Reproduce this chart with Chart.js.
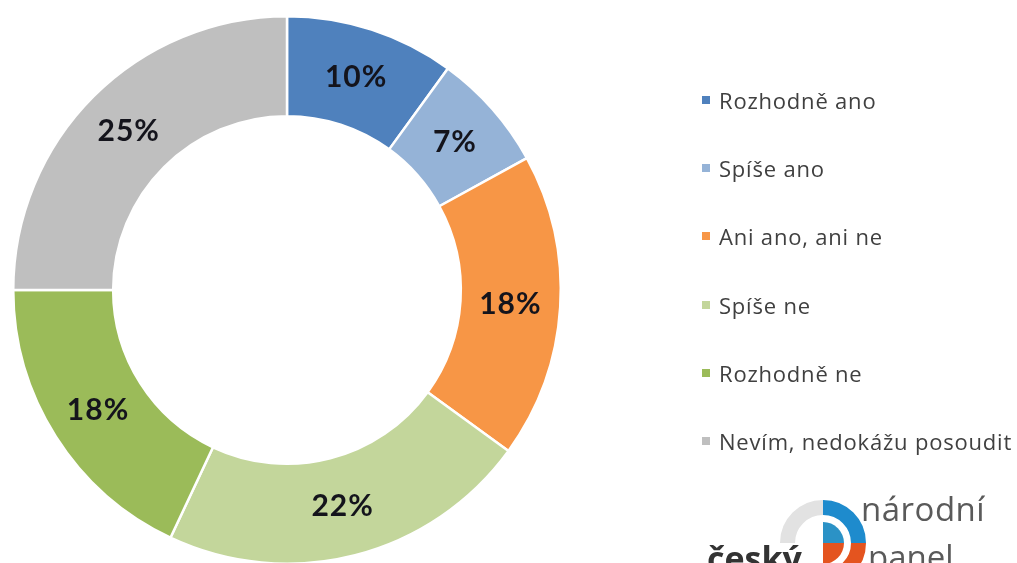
<!DOCTYPE html>
<html>
<head>
<meta charset="utf-8">
<script src="https://cdn.jsdelivr.net/npm/chart.js@4.4.1/dist/chart.umd.min.js"></script>
<style>
    html, body { margin: 0; padding: 0; background: #fff; overflow: hidden; }
    #wrap { position: absolute; left: 0; top: 0; width: 1017px; height: 580px; }
    #legend { position: absolute; left: 0; top: 0; }
    .item { position: absolute; left: 702px; height: 30px; line-height: 30px; white-space: nowrap;
            font-family: "Open Sans", sans-serif; font-size: 22px; letter-spacing: 0.8px; color: #404040; }
    .item span.box { position: absolute; left: 0; top: 11px; width: 8px; height: 8px; }
    .item span.txt { position: absolute; left: 17px; top: 0; }
    .logo { position: absolute; white-space: nowrap; font-family: "Open Sans", sans-serif; }
</style>
</head>
<body>
<div id="wrap">
    <canvas id="donutChart"></canvas>
    <div id="legend"></div>
    <div class="logo" style="left:861px; top:486px; font-size:33px; color:#5a5a5a; letter-spacing:0.5px;">národní</div>
    <div class="logo" style="left:868px; top:534px; font-size:33px; color:#5a5a5a;">panel</div>
    <div class="logo" style="left:707px; top:535px; font-size:34px; font-weight:700; color:#333;">český</div>
</div>
<script>
const categories = ['Rozhodně ano', 'Spíše ano', 'Ani ano, ani ne', 'Spíše ne', 'Rozhodně ne', 'Nevím, nedokážu posoudit'];
const shares = [10, 7, 18, 22, 18, 25];
const sliceColors = ['#4f81bd', '#95b3d7', '#f79646', '#c3d69b', '#9bbb59', '#bfbfbf'];

// legend on the right, one row per category
const legendEl = document.getElementById('legend');
categories.forEach((name, i) => {
    const row = document.createElement('div');
    row.className = 'item';
    row.style.top = (85 + i * 68.2) + 'px';
    row.innerHTML = '<span class="box" style="background:' + sliceColors[i] + '"></span><span class="txt">' + name + '</span>';
    legendEl.appendChild(row);
});

// percentage labels in the middle of each ring slice
const sliceLabels = {
    id: 'sliceLabels',
    afterDatasetsDraw(chart) {
        const ctx = chart.ctx;
        const meta = chart.getDatasetMeta(0);
        ctx.save();
        ctx.font = '700 30px Lato, sans-serif';
        ctx.letterSpacing = '1px';
        ctx.fillStyle = '#14141c';
        ctx.textAlign = 'center';
        ctx.textBaseline = 'middle';
        meta.data.forEach((arc, i) => {
            const pos = arc.tooltipPosition();
            ctx.fillText(shares[i] + '%', pos.x, pos.y);
        });
        ctx.restore();
    }
};

// the small ring logo at the bottom right
const logoMark = {
    id: 'logoMark',
    afterDraw(chart) {
        const ctx = chart.ctx;
        const cx = 823, cy = 543;
        ctx.save();
        ctx.lineWidth = 15;
        ctx.strokeStyle = '#e2e2e2';
        ctx.beginPath();
        ctx.arc(cx, cy, 35.5, Math.PI, Math.PI * 1.5);
        ctx.stroke();
        ctx.strokeStyle = '#1e8bcd';
        ctx.beginPath();
        ctx.arc(cx, cy, 35.5, -Math.PI / 2, 0);
        ctx.stroke();
        ctx.strokeStyle = '#e4541f';
        ctx.beginPath();
        ctx.arc(cx, cy, 35.5, 0, Math.PI / 2);
        ctx.stroke();
        ctx.fillStyle = '#2b92c6';
        ctx.beginPath();
        ctx.moveTo(cx, cy);
        ctx.arc(cx, cy, 21, -Math.PI / 2, 0);
        ctx.closePath();
        ctx.fill();
        ctx.fillStyle = '#e4541f';
        ctx.beginPath();
        ctx.moveTo(cx, cy);
        ctx.arc(cx, cy, 21, 0, Math.PI / 2);
        ctx.closePath();
        ctx.fill();
        ctx.restore();
    }
};

const ctx = document.getElementById('donutChart').getContext('2d');
new Chart(ctx, {
    type: 'doughnut',
    data: {
        labels: categories,
        datasets: [{
            data: shares,
            backgroundColor: sliceColors,
            borderColor: '#ffffff',
            borderWidth: 2.5
        }]
    },
    options: {
        responsive: true,
        maintainAspectRatio: false,
        animation: false,
        cutout: '63.5%',
        layout: {
            padding: { left: 12, top: 15, right: 455, bottom: 15 }
        },
        plugins: {
            legend: { display: false },
            tooltip: { enabled: false }
        }
    },
    plugins: [sliceLabels, logoMark]
});
</script>
</body>
</html>
